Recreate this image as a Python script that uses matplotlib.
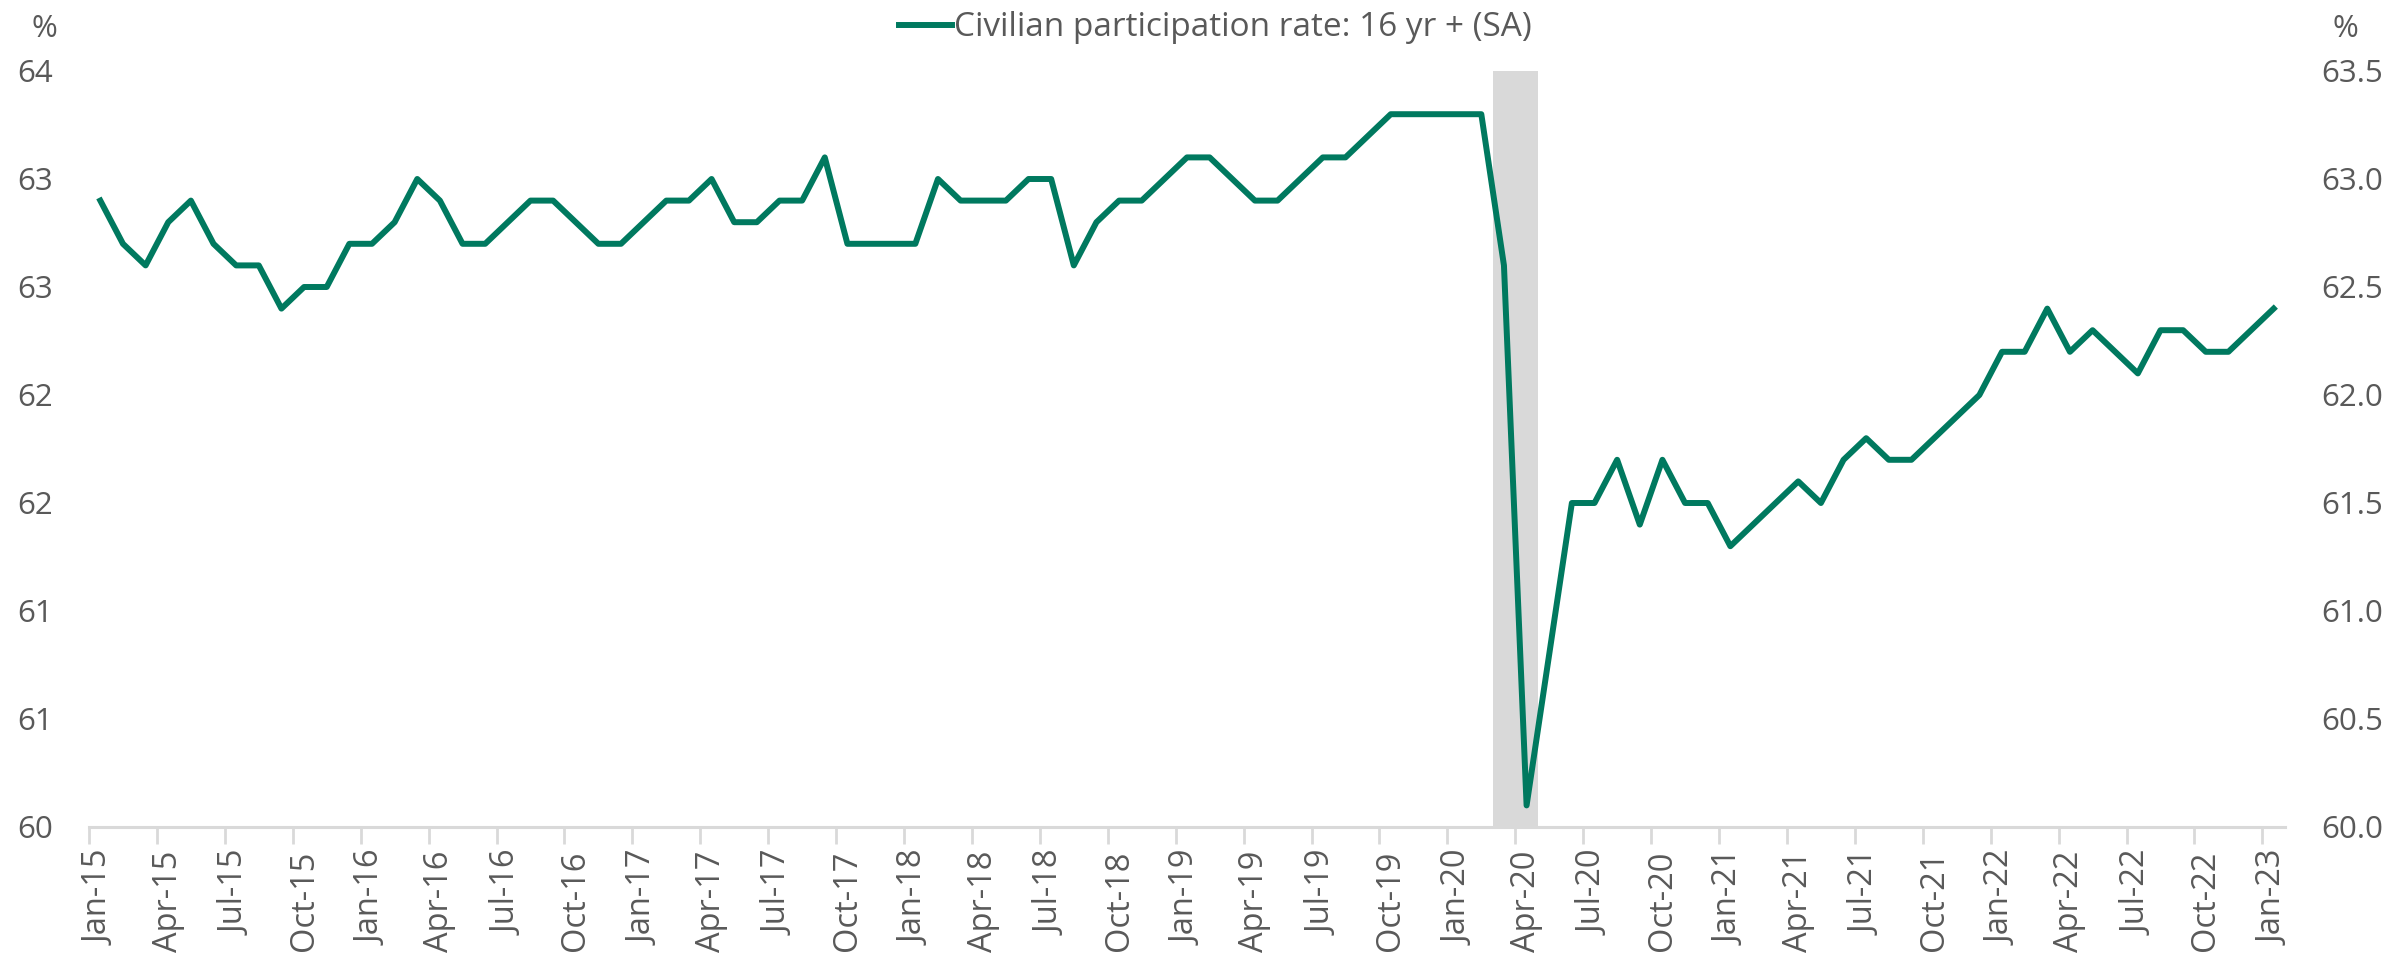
import numpy as np
import matplotlib.pyplot as plt
from matplotlib.patches import Rectangle

# Monthly civilian participation rate, Jan-15 .. Jan-23 (%)
months = ['Jan', 'Feb', 'Mar', 'Apr', 'May', 'Jun', 'Jul', 'Aug', 'Sep', 'Oct', 'Nov', 'Dec']
years = list(range(15, 24))
dates = [f'{m}-{y}' for y in years for m in months][:97]

rate = [
    62.9, 62.7, 62.6, 62.8, 62.9, 62.7, 62.6, 62.6, 62.4, 62.5, 62.5, 62.7,  # 2015
    62.7, 62.8, 63.0, 62.9, 62.7, 62.7, 62.8, 62.9, 62.9, 62.8, 62.7, 62.7,  # 2016
    62.8, 62.9, 62.9, 63.0, 62.8, 62.8, 62.9, 62.9, 63.1, 62.7, 62.7, 62.7,  # 2017
    62.7, 63.0, 62.9, 62.9, 62.9, 63.0, 63.0, 62.6, 62.8, 62.9, 62.9, 63.0,  # 2018
    63.1, 63.1, 63.0, 62.9, 62.9, 63.0, 63.1, 63.1, 63.2, 63.3, 63.3, 63.3,  # 2019
    63.3, 63.3, 62.6, 60.1, 60.8, 61.5, 61.5, 61.7, 61.4, 61.7, 61.5, 61.5,  # 2020
    61.3, 61.4, 61.5, 61.6, 61.5, 61.7, 61.8, 61.7, 61.7, 61.8, 61.9, 62.0,  # 2021
    62.2, 62.2, 62.4, 62.2, 62.3, 62.2, 62.1, 62.3, 62.3, 62.2, 62.2, 62.3,  # 2022
    62.4,                                                                    # 2023
]

# recession shading (Mar-20, Apr-20)
recession = ['Mar-20', 'Apr-20']

y_ticks = [60.0, 60.5, 61.0, 61.5, 62.0, 62.5, 63.0, 63.5]
left_labels = ['60', '61', '61', '62', '62', '63', '63', '64']
right_labels = ['60.0', '60.5', '61.0', '61.5', '62.0', '62.5', '63.0', '63.5']

green = '#00795F'
grey_text = '#595959'
axis_grey = '#D9D9D9'

plt.rcParams['font.family'] = ['Open Sans', 'DejaVu Sans']

fig = plt.figure(figsize=(23.9, 9.57), dpi=100)
ax = fig.add_axes([89 / 2390, 130 / 957, (2285 - 89) / 2390, (827 - 71) / 957])

x = np.arange(len(rate))

# shaded recession band spans full categories
r0 = dates.index(recession[0])
r1 = dates.index(recession[-1])
ax.add_patch(Rectangle((r0 - 0.5, 60.0), r1 - r0 + 1, 3.5, facecolor=axis_grey,
                       edgecolor='none', zorder=1))

ax.plot(x, rate, color=green, lw=4.3, zorder=3, label='Civilian participation rate: 16 yr + (SA)')

ax.set_xlim(-0.5, len(rate) - 0.5)
ax.set_ylim(60.0, 63.5)

# labels centred on the months, tick marks on category boundaries
lab_idx = x[::3]
ax.set_xticks(lab_idx)
ax.set_xticklabels([dates[i] for i in lab_idx], rotation=90, fontsize=23.5, color=grey_text)
ax.set_xticks(lab_idx - 0.5, minor=True)
ax.tick_params(axis='x', which='major', length=0, pad=17)
ax.tick_params(axis='x', which='minor', length=12, width=2, color=axis_grey)

ax.set_yticks(y_ticks)
ax.set_yticklabels(left_labels, fontsize=22.5, color=grey_text)
ax.tick_params(axis='y', length=0, pad=26)

for s in ['top', 'right', 'left']:
    ax.spines[s].set_visible(False)
ax.spines['bottom'].set_color(axis_grey)
ax.spines['bottom'].set_linewidth(2.2)

ax2 = ax.twinx()
ax2.set_ylim(60.0, 63.5)
ax2.set_yticks(y_ticks)
ax2.set_yticklabels(right_labels, fontsize=22.5, color=grey_text)
ax2.tick_params(axis='y', length=0, pad=26)
for s in ax2.spines.values():
    s.set_visible(False)

fig.text(44 / 2390, 1 - 29 / 957, '%', fontsize=22.5, color=grey_text, ha='center', va='center')
fig.text(2345 / 2390, 1 - 29 / 957, '%', fontsize=22.5, color=grey_text, ha='center', va='center')

leg = fig.legend(loc='center', bbox_to_anchor=(1215 / 2390, 1 - 28 / 957), frameon=False,
                 handlelength=1.6, handletextpad=0.05, borderaxespad=0,
                 prop={'family': ['Liberation Sans Narrow', 'Open Sans'], 'size': 24})
for t in leg.get_texts():
    t.set_color(grey_text)

fig.savefig('out.png', dpi=100)
